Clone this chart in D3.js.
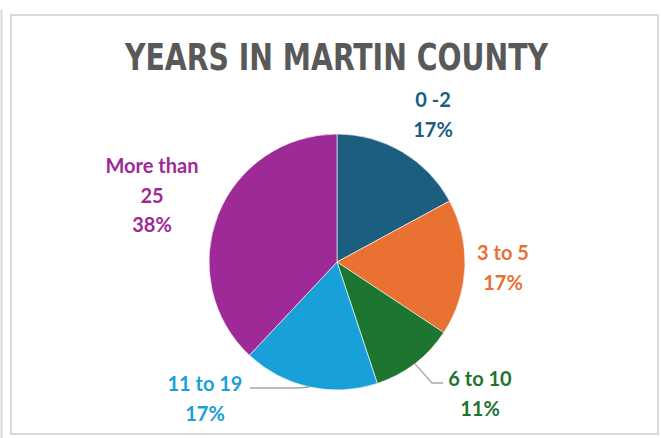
<!DOCTYPE html>
<html><head><meta charset="utf-8">
<script src="https://cdn.jsdelivr.net/npm/d3@7"></script>
<style>html,body{margin:0;padding:0;background:#fff;}svg{display:block;}</style>
</head><body>
<svg id="chart" width="661" height="438"></svg>
<script>
const title = "YEARS IN MARTIN COUNTY";
const categories = ["0 -2", "3 to 5", "6 to 10", "11 to 19", "More than 25"];
const values = [17.1, 17.2, 10.6, 17.1, 38.0];
const percentLabels = ["17%", "17%", "11%", "17%", "38%"];
const colors = ["#1b5e80", "#e97132", "#1e7530", "#1aa0d8", "#9e2a97"];

const svg = d3.select("#chart");
const W = 661, H = 438;

// frame
svg.append("line").attr("x1", 1.5).attr("x2", 1.5).attr("y1", 10).attr("y2", H)
  .attr("stroke", "#d9d9d9").attr("stroke-width", 2);
svg.append("rect").attr("x", 11).attr("y", 15).attr("width", 647).attr("height", 419)
  .attr("fill", "#fff").attr("stroke", "#d9d9d9").attr("stroke-width", 2);

svg.append("text").text(title)
  .attr("x", 336.5).attr("y", 70).attr("text-anchor", "middle")
  .attr("font-family", "'Liberation Sans Narrow', 'DejaVu Sans Condensed', sans-serif")
  .attr("font-weight", "bold").attr("font-size", 37).attr("fill", "#595959")
  .attr("textLength", 423).attr("lengthAdjust", "spacingAndGlyphs");

const cx = 337, cy = 262, R = 128;
const pie = d3.pie().sort(null).value(d => d)(values);
const arc = d3.arc().innerRadius(0).outerRadius(R);
const g = svg.append("g").attr("transform", `translate(${cx},${cy})`);
g.selectAll("path").data(pie).enter().append("path")
  .attr("d", arc).attr("fill", (d, i) => colors[i])
  .attr("stroke", "#fff").attr("stroke-width", 0.6);

const labelPos = [
  {x: 433, y: 107, lines: ["0 -2"]},
  {x: 503, y: 260, lines: ["3 to 5"]},
  {x: 480, y: 386, lines: ["6 to 10"]},
  {x: 205, y: 391, lines: ["11 to 19"]},
  {x: 152, y: 173, lines: ["More than", "25"]}
];
const lh = 29.5;
labelPos.forEach((p, i) => {
  const t = svg.append("text").attr("text-anchor", "middle")
    .attr("font-family", "Lato, 'Open Sans', sans-serif").attr("font-weight", "bold")
    .attr("font-size", 20).attr("fill", colors[i]);
  const lines = p.lines.concat([percentLabels[i]]);
  lines.forEach((s, k) => {
    t.append("tspan").attr("x", p.x).attr("y", p.y + k * lh).text(s);
  });
});

function edge(i, frac) {
  const d = pie[i];
  const a = d.startAngle + (d.endAngle - d.startAngle) * frac;
  return [cx + R * Math.sin(a), cy - R * Math.cos(a)];
}
const e6 = edge(2, 0.5);
svg.append("polyline")
  .attr("points", [[e6[0], e6[1]], [432, 383], [443, 383]].map(p => p.join(",")).join(" "))
  .attr("fill", "none").attr("stroke", "#a6a6a6").attr("stroke-width", 1.3);
const e11 = edge(3, 0.5);
svg.append("polyline")
  .attr("points", [[e11[0], e11[1]], [297, 388], [250, 388]].map(p => p.join(",")).join(" "))
  .attr("fill", "none").attr("stroke", "#a6a6a6").attr("stroke-width", 1.3);
</script>
</body></html>
